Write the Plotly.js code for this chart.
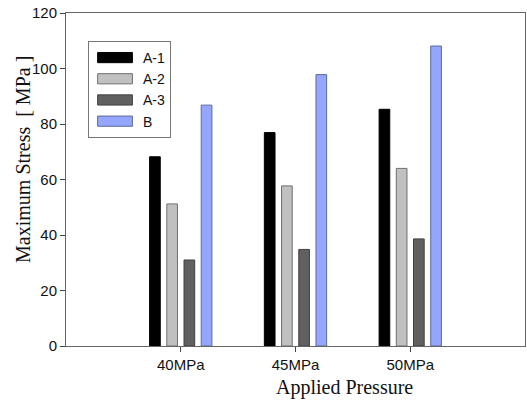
<!DOCTYPE html>
<html>
<head>
<meta charset="utf-8">
<script src="https://cdn.plot.ly/plotly-3.0.1.min.js"></script>
<style>html,body{margin:0;padding:0;background:#fff;}</style>
</head>
<body>
<div id="chart" style="width:527px;height:403px;"></div>
<script>
const categories = ["40MPa", "45MPa", "50MPa"];
const seriesNames = ["A-1", "A-2", "A-3", "B"];
const valuesA1 = [68.2, 76.9, 85.3];
const valuesA2 = [51.2, 57.7, 64.0];
const valuesA3 = [31.0, 34.8, 38.6];
const valuesB = [86.8, 97.8, 108.1];
const yTicks = [0, 20, 40, 60, 80, 100, 120];

const fills = ["#000000", "#c0c0c0", "#606060", "#95a6ff"];
const lines = ["#000000", "#707070", "#404040", "#5a6a9a"];
const allValues = [valuesA1, valuesA2, valuesA3, valuesB];

const traces = allValues.map((vals, i) => ({
  type: "bar",
  name: seriesNames[i],
  x: [0, 1, 2],
  y: vals,
  marker: { color: fills[i], line: { color: lines[i], width: 1 } },
  hoverinfo: "skip"
}));

const sansFont = "Liberation Sans, Arial, sans-serif";
const serifFont = "Liberation Serif, Times New Roman, serif";

const layout = {
  width: 527, height: 403,
  margin: { l: 66, r: 2, t: 13, b: 57 },
  paper_bgcolor: "#ffffff",
  plot_bgcolor: "#ffffff",
  barmode: "group",
  bargap: 0.4,
  bargroupgap: 0.38,
  showlegend: true,
  legend: {
    x: 0.048, y: 0.916, xanchor: "left", yanchor: "top",
    bgcolor: "#ffffff", bordercolor: "#777777", borderwidth: 1,
    font: { family: sansFont, size: 14, color: "#111" },
    tracegroupgap: 0, itemwidth: 44
  },
  xaxis: {
    range: [-1, 3],
    tickmode: "array", tickvals: [0, 1, 2], ticktext: categories,
    ticks: "outside", ticklen: 5, tickcolor: "#444",
    showline: true, linecolor: "#666", linewidth: 1, mirror: true,
    showgrid: false, zeroline: false,
    tickfont: { family: sansFont, size: 15, color: "#111" }
  },
  yaxis: {
    range: [0, 120],
    tickmode: "array", tickvals: yTicks,
    ticks: "outside", ticklen: 5, tickcolor: "#444",
    showline: true, linecolor: "#666", linewidth: 1, mirror: true,
    showgrid: false, zeroline: false,
    tickfont: { family: sansFont, size: 15, color: "#111" }
  },
  annotations: [
    { text: "Applied Pressure", xref: "paper", yref: "paper", x: 0.607, y: -0.085,
      xanchor: "center", yanchor: "top", showarrow: false,
      font: { family: serifFont, size: 20, color: "#111" } },
    { text: "Maximum Stress&nbsp; [ MPa ]", xref: "paper", yref: "paper", x: -0.095, y: 0.56,
      xanchor: "center", yanchor: "middle", showarrow: false, textangle: -90,
      font: { family: serifFont, size: 20, color: "#111" } }
  ]
};

Plotly.newPlot("chart", traces, layout, { staticPlot: true }).then(() => {
  document.querySelectorAll("#chart .legend .legendpoints path").forEach(p => {
    p.setAttribute("transform", "translate(26,0) scale(2.9,0.85)");
    p.setAttribute("vector-effect", "non-scaling-stroke");
  });
});
</script>
</body>
</html>
